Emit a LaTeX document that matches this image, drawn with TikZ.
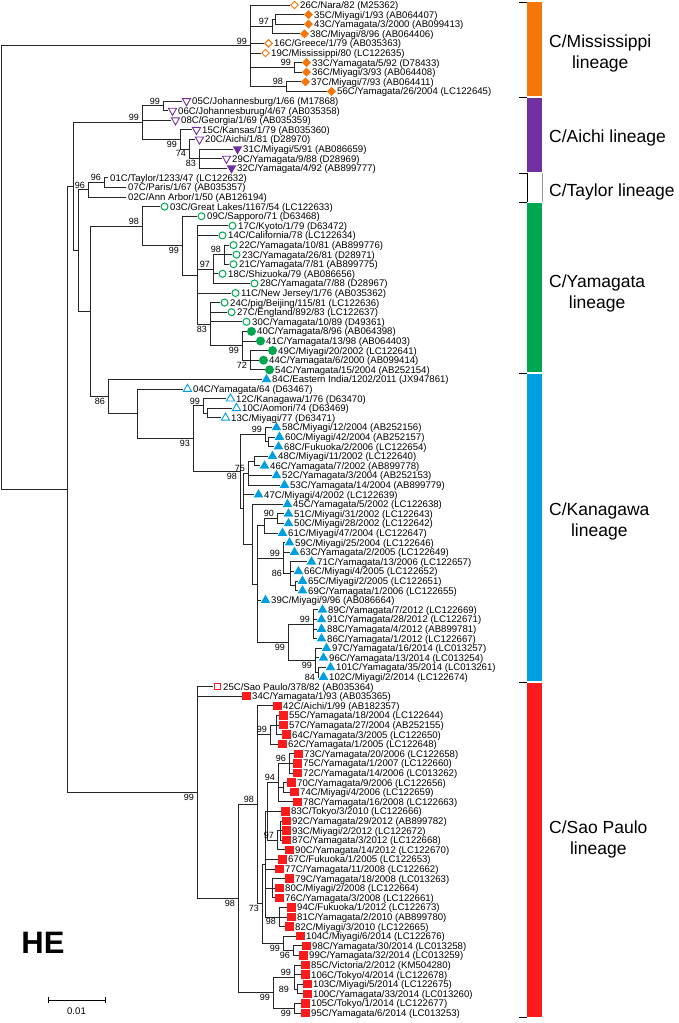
\documentclass[tikz,border=0pt]{standalone}
\usepackage{fontspec}
\setmainfont{Liberation Sans}
\usetikzlibrary{shapes.geometric,calc}

\definecolor{cmis}{RGB}{245,118,10}
\definecolor{caic}{RGB}{112,48,160}
\definecolor{cyam}{RGB}{0,166,80}
\definecolor{ckan}{RGB}{0,160,224}
\definecolor{csao}{RGB}{250,28,28}

% row -> pixel
\newcommand\rw[1]{{9.6*(#1)-4.6}}
\newcommand\clade[3]{\coordinate (#1) at (#2,\rw{#3});}
\newcommand\leaf[5]{%
  \coordinate (#1) at (#3,\rw{#2});
  \node[#4] at ([xshift=4.5pt]#1) {};
  \node[strain] at ([xshift=10pt]#1) {#5};}
\newcommand\bare[4]{%
  \coordinate (#1) at (#3,\rw{#2});
  \node[strain] at ([xshift=2pt]#1) {#4};}
\newcommand\kids[2]{\foreach \ch in {#2}{\draw[branch] (#1) |- (\ch);}}

\tikzset{
  branch/.style={line width=0.75pt, draw=black!85},
  strain/.style={anchor=base west, inner sep=0pt, yshift=-3.4pt, font=\fontsize{9.6}{10}\selectfont},
  bsa/.style={anchor=south east, inner sep=0pt, xshift=-3pt, yshift=1.5pt, font=\fontsize{9}{10}\selectfont},
  bsb/.style={anchor=north east, inner sep=0pt, xshift=-3pt, yshift=-1.5pt, font=\fontsize{9}{10}\selectfont},
  bse/.style={anchor=east, inner sep=0pt, xshift=-8pt, font=\fontsize{9}{10}\selectfont},
  mk/.style={inner sep=0pt, outer sep=0pt},
  msO/.style={mk, diamond, draw=cmis, line width=1pt, fill=white, minimum width=7.5pt, minimum height=7.5pt},
  msF/.style={mk, diamond, fill=cmis, minimum width=9pt, minimum height=9pt},
  aiO/.style={mk, regular polygon, regular polygon sides=3, shape border rotate=180, draw=caic, line width=0.9pt, minimum size=9.5pt},
  aiF/.style={mk, regular polygon, regular polygon sides=3, shape border rotate=180, fill=caic, minimum size=11pt},
  yaO/.style={mk, circle, draw=cyam, line width=1pt, minimum size=7pt},
  yaF/.style={mk, circle, fill=cyam, minimum size=9pt},
  kaO/.style={mk, regular polygon, regular polygon sides=3, draw=ckan, line width=0.9pt, minimum size=9.5pt},
  kaF/.style={mk, regular polygon, regular polygon sides=3, fill=ckan, minimum size=11pt},
  spO/.style={mk, rectangle, draw=csao, line width=1pt, minimum size=6.5pt},
  spF/.style={mk, rectangle, fill=csao, minimum size=8.5pt},
  lineage/.style={inner sep=0pt, align=center, font=\fontsize{17.5}{21}\selectfont}
}

\begin{document}
\begin{tikzpicture}[x=1pt,y=-1pt]
\useasboundingbox (0,0) rectangle (678,1023);

% internal nodes
\clade{root}{1}{28.37}
\clade{M}{250}{5.25}
\clade{m97}{272}{3.25}
\clade{m3543}{275}{2.5}
\clade{m99b}{294}{7.5}
\clade{m98}{286}{9.5}
\clade{A}{67}{51.49}
\clade{B}{73}{19.93}
\clade{AI}{142}{13.25}
\clade{ai99a}{163}{11.5}
\clade{ai99b}{180}{15}
\clade{ai74}{189}{16}
\clade{ai83}{199}{17}
\clade{C}{78}{26.58}
\clade{T2}{88}{20.25}
\clade{T1}{104}{19.5}
\clade{D}{90}{32.9}
\clade{Y}{142}{24.03}
\clade{Y2}{182}{26.06}
\clade{Y3}{197}{29.12}
\clade{y97}{213}{28.5}
\clade{y98}{224}{27}
\clade{y83}{210}{34.25}
\clade{y99}{242}{36.5}
\clade{y72}{250}{38}
\clade{K}{108}{41.8}
\clade{K2}{137}{43.59}
\clade{K3}{193}{46.18}
\clade{k99a}{203}{42.75}
\clade{k10}{207}{43.5}
\clade{K4}{240}{49.6}
\clade{k99b}{265}{45.75}
\clade{k60}{268}{46.5}
\clade{Kb}{243}{53.46}
\clade{k75}{248}{49.75}
\clade{k48}{254}{48.5}
\clade{Kc}{252}{57.16}
\clade{Kd}{257}{61.33}
\clade{k90}{264}{55.25}
\clade{k90a}{277}{54.5}
\clade{k99c}{283}{58.63}
\clade{k86}{290}{60.25}
\clade{k86a}{295}{61.5}
\clade{k99d}{288}{67.38}
\clade{k89}{313}{65.5}
\clade{k97}{315}{69.25}
\clade{k84}{318}{70.5}
\clade{S}{197}{83.05}
\clade{S2}{238}{94.09}
\clade{S3}{257}{84.3}
\clade{p99}{270}{77}
\clade{p99a}{276}{76}
\clade{S6}{262}{94.63}
\clade{Sb}{265}{90.5}
\clade{Sa}{267}{85}
\clade{p94}{278}{82}
\clade{p96}{289}{80}
\clade{p70}{283}{82.5}
\clade{p97}{277}{88}
\clade{p97a}{280}{87}
\clade{p79}{272}{93}
\clade{p98}{279}{96}
\clade{p104}{283}{98.75}
\clade{p96b}{293}{99.5}
\clade{S4}{273}{103.88}
\clade{p99e}{294}{102.25}
\clade{p89}{297}{103.5}
\clade{p99f}{294}{105.5}

% C/Mississippi
\leaf{s26}{1}{290}{msO}{26C/Nara/82 (M25362)}
\leaf{s35}{2}{304}{msF}{35C/Miyagi/1/93 (AB064407)}
\leaf{s43}{3}{304}{msF}{43C/Yamagata/3/2000 (AB099413)}
\leaf{s38}{4}{300}{msF}{38C/Miyagi/8/96 (AB064406)}
\leaf{s16}{5}{264}{msO}{16C/Greece/1/79 (AB035363)}
\leaf{s19}{6}{261}{msO}{19C/Mississippi/80 (LC122635)}
\leaf{s33}{7}{302}{msF}{33C/Yamagata/5/92 (D78433)}
\leaf{s36}{8}{302}{msF}{36C/Miyagi/3/93 (AB064408)}
\leaf{s37}{9}{301}{msF}{37C/Miyagi/7/93 (AB064411)}
\leaf{s56}{10}{327}{msF}{56C/Yamagata/26/2004 (LC122645)}
% C/Aichi
\leaf{s05}{11}{182}{aiO}{05C/Johannesburg/1/66 (M17868)}
\leaf{s06}{12}{168}{aiO}{06C/Johannesburug/4/67 (AB035358)}
\leaf{s08}{13}{171}{aiO}{08C/Georgia/1/69 (AB035359)}
\leaf{s15}{14}{192}{aiO}{15C/Kansas/1/79 (AB035360)}
\leaf{s20}{15}{195}{aiO}{20C/Aichi/1/81 (D28970)}
\leaf{s31}{16}{233}{aiF}{31C/Miyagi/5/91 (AB086659)}
\leaf{s29}{17}{222}{aiO}{29C/Yamagata/9/88 (D28969)}
\leaf{s32}{18}{227}{aiF}{32C/Yamagata/4/92 (AB899777)}
% C/Taylor
\bare{s01}{19}{108}{01C/Taylor/1233/47 (LC122632)}
\bare{s07}{20}{126}{07C/Paris/1/67 (AB035357)}
\bare{s02}{21}{126}{02C/Ann Arbor/1/50 (AB126194)}
% C/Yamagata
\leaf{s03}{22}{160}{yaO}{03C/Great Lakes/1167/54 (LC122633)}
\leaf{s09}{23}{197}{yaO}{09C/Sapporo/71 (D63468)}
\leaf{s17}{24}{228}{yaO}{17C/Kyoto/1/79 (D63472)}
\leaf{s14}{25}{218}{yaO}{14C/California/78 (LC122634)}
\leaf{s22}{26}{229}{yaO}{22C/Yamagata/10/81 (AB899776)}
\leaf{s23}{27}{232}{yaO}{23C/Yamagata/26/81 (D28971)}
\leaf{s21}{28}{229}{yaO}{21C/Yamagata/7/81 (AB899775)}
\leaf{s18}{29}{218}{yaO}{18C/Shizuoka/79 (AB086656)}
\leaf{s28}{30}{250}{yaO}{28C/Yamagata/7/88 (D28967)}
\leaf{s11}{31}{231}{yaO}{11C/New Jersey/1/76 (AB035362)}
\leaf{s24}{32}{220}{yaO}{24C/pig/Beijing/115/81 (LC122636)}
\leaf{s27}{33}{227}{yaO}{27C/England/892/83 (LC122637)}
\leaf{s30}{34}{242}{yaO}{30C/Yamagata/10/89 (D49361)}
\leaf{s40}{35}{247}{yaF}{40C/Yamagata/8/96 (AB064398)}
\leaf{s41}{36}{256}{yaF}{41C/Yamagata/13/98 (AB064403)}
\leaf{s49}{37}{268}{yaF}{49C/Miyagi/20/2002 (LC122641)}
\leaf{s44}{38}{259}{yaF}{44C/Yamagata/6/2000 (AB099414)}
\leaf{s54}{39}{265}{yaF}{54C/Yamagata/15/2004 (AB252154)}
% C/Kanagawa
\leaf{s84}{40}{262}{kaF}{84C/Eastern India/1202/2011 (JX947861)}
\leaf{s04}{41}{183}{kaO}{04C/Yamagata/64 (D63467)}
\leaf{s12}{42}{226}{kaO}{12C/Kanagawa/1/76 (D63470)}
\leaf{s10}{43}{232}{kaO}{10C/Aomori/74 (D63469)}
\leaf{s13}{44}{221}{kaO}{13C/Miyagi/77 (D63471)}
\leaf{s58}{45}{272}{kaF}{58C/Miyagi/12/2004 (AB252156)}
\leaf{s60}{46}{275}{kaF}{60C/Miyagi/42/2004 (AB252157)}
\leaf{s68}{47}{274}{kaF}{68C/Fukuoka/2/2006 (LC122654)}
\leaf{s48}{48}{268}{kaF}{48C/Miyagi/11/2002 (LC122640)}
\leaf{s46}{49}{260}{kaF}{46C/Yamagata/7/2002 (AB899778)}
\leaf{s52}{50}{272}{kaF}{52C/Yamagata/3/2004 (AB252153)}
\leaf{s53}{51}{280}{kaF}{53C/Yamagata/14/2004 (AB899779)}
\leaf{s47}{52}{254}{kaF}{47C/Miyagi/4/2002 (LC122639)}
\leaf{s45}{53}{283}{kaF}{45C/Yamagata/5/2002 (LC122638)}
\leaf{s51}{54}{284}{kaF}{51C/Miyagi/31/2002 (LC122643)}
\leaf{s50}{55}{284}{kaF}{50C/Miyagi/28/2002 (LC122642)}
\leaf{s61}{56}{278}{kaF}{61C/Miyagi/47/2004 (LC122647)}
\leaf{s59}{57}{285}{kaF}{59C/Miyagi/25/2004 (LC122646)}
\leaf{s63}{58}{290}{kaF}{63C/Yamagata/2/2005 (LC122649)}
\leaf{s71}{59}{307}{kaF}{71C/Yamagata/13/2006 (LC122657)}
\leaf{s66}{60}{294}{kaF}{66C/Miyagi/4/2005 (LC122652)}
\leaf{s65}{61}{298}{kaF}{65C/Miyagi/2/2005 (LC122651)}
\leaf{s69}{62}{298}{kaF}{69C/Yamagata/1/2006 (LC122655)}
\leaf{s39}{63}{261}{kaF}{39C/Miyagi/9/96 (AB086664)}
\leaf{s89}{64}{318}{kaF}{89C/Yamagata/7/2012 (LC122669)}
\leaf{s91}{65}{317}{kaF}{91C/Yamagata/28/2012 (LC122671)}
\leaf{s88}{66}{317}{kaF}{88C/Yamagata/4/2012 (AB899781)}
\leaf{s86}{67}{317}{kaF}{86C/Yamagata/1/2012 (LC122667)}
\leaf{s97}{68}{322}{kaF}{97C/Yamagata/16/2014 (LC013257)}
\leaf{s96}{69}{319}{kaF}{96C/Yamagata/13/2014 (LC013254)}
\leaf{s101}{70}{326}{kaF}{101C/Yamagata/35/2014 (LC013261)}
\leaf{s102}{71}{319}{kaF}{102C/Miyagi/2/2014 (LC122674)}
% C/Sao Paulo
\leaf{s25}{72}{213}{spO}{25C/Sao Paulo/378/82 (AB035364)}
\leaf{s34}{73}{242}{spF}{34C/Yamagata/1/93 (AB035365)}
\leaf{s42}{74}{273}{spF}{42C/Aichi/1/99 (AB182357)}
\leaf{s55}{75}{279}{spF}{55C/Yamagata/18/2004 (LC122644)}
\leaf{s57}{76}{279}{spF}{57C/Yamagata/27/2004 (AB252155)}
\leaf{s64}{77}{282}{spF}{64C/Yamagata/3/2005 (LC122650)}
\leaf{s62}{78}{278}{spF}{62C/Yamagata/1/2005 (LC122648)}
\leaf{s73}{79}{294}{spF}{73C/Yamagata/20/2006 (LC122658)}
\leaf{s75}{80}{293}{spF}{75C/Yamagata/1/2007 (LC122660)}
\leaf{s72}{81}{293}{spF}{72C/Yamagata/14/2006 (LC013262)}
\leaf{s70}{82}{287}{spF}{70C/Yamagata/9/2006 (LC122656)}
\leaf{s74}{83}{290}{spF}{74C/Miyagi/4/2006 (LC122659)}
\leaf{s78}{84}{293}{spF}{78C/Yamagata/16/2008 (LC122663)}
\leaf{s83}{85}{281}{spF}{83C/Tokyo/3/2010 (LC122666)}
\leaf{s92}{86}{282}{spF}{92C/Yamagata/29/2012 (AB899782)}
\leaf{s93}{87}{282}{spF}{93C/Miyagi/2/2012 (LC122672)}
\leaf{s87}{88}{282}{spF}{87C/Yamagata/3/2012 (LC122668)}
\leaf{s90}{89}{285}{spF}{90C/Yamagata/14/2012 (LC122670)}
\leaf{s67}{90}{278}{spF}{67C/Fukuoka/1/2005 (LC122653)}
\leaf{s77}{91}{275}{spF}{77C/Yamagata/11/2008 (LC122662)}
\leaf{s79}{92}{285}{spF}{79C/Yamagata/18/2008 (LC013263)}
\leaf{s80}{93}{275}{spF}{80C/Miyagi/2/2008 (LC122664)}
\leaf{s76}{94}{275}{spF}{76C/Yamagata/3/2008 (LC122661)}
\leaf{s94}{95}{287}{spF}{94C/Fukuoka/1/2012 (LC122673)}
\leaf{s81}{96}{287}{spF}{81C/Yamagata/2/2010 (AB899780)}
\leaf{s82}{97}{285}{spF}{82C/Miyagi/3/2010 (LC122665)}
\leaf{s104}{98}{296}{spF}{104C/Miyagi/6/2014 (LC122676)}
\leaf{s98}{99}{302}{spF}{98C/Yamagata/30/2014 (LC013258)}
\leaf{s99}{100}{299}{spF}{99C/Yamagata/32/2014 (LC013259)}
\leaf{s85}{101}{301}{spF}{85C/Victoria/2/2012 (KM504280)}
\leaf{s106}{102}{301}{spF}{106C/Tokyo/4/2014 (LC122678)}
\leaf{s103}{103}{303}{spF}{103C/Miyagi/5/2014 (LC122675)}
\leaf{s100}{104}{303}{spF}{100C/Yamagata/33/2014 (LC013260)}
\leaf{s105}{105}{301}{spF}{105C/Tokyo/1/2014 (LC122677)}
\leaf{s95}{106}{301}{spF}{95C/Yamagata/6/2014 (LC013253)}

% branches
\kids{root}{M,A}
\kids{M}{s26,m97,s16,s19,m99b,m98}
\kids{m97}{m3543,s38}
\kids{m3543}{s35,s43}
\kids{m99b}{s33,s36}
\kids{m98}{s37,s56}
\kids{A}{B,S}
\kids{B}{AI,C}
\kids{AI}{ai99a,s08,ai99b}
\kids{ai99a}{s05,s06}
\kids{ai99b}{s15,ai74}
\kids{ai74}{s20,ai83}
\kids{ai83}{s31,s29,s32}
\kids{C}{T2,D}
\kids{T2}{T1,s02}
\kids{T1}{s01,s07}
\kids{D}{Y,K}
\kids{Y}{s03,Y2}
\kids{Y2}{s09,Y3}
\kids{Y3}{s17,s14,y97,s11,y83}
\kids{y97}{y98,s18,s28}
\kids{y98}{s22,s23,s21}
\kids{y83}{s24,s27,s30,y99}
\kids{y99}{s40,s41,y72}
\kids{y72}{s49,s44,s54}
\kids{K}{s84,K2}
\kids{K2}{s04,K3}
\kids{K3}{k99a,K4}
\kids{k99a}{s12,k10}
\kids{k10}{s10,s13}
\kids{K4}{k99b,Kb}
\kids{k99b}{s58,k60}
\kids{k60}{s60,s68}
\kids{Kb}{k75,s47,Kc}
\kids{k75}{k48,s52,s53}
\kids{k48}{s48,s46}
\kids{Kc}{s45,Kd}
\kids{Kd}{k90,k99c,s39,k99d}
\kids{k90}{k90a,s61}
\kids{k90a}{s51,s50}
\kids{k99c}{s59,s63,k86}
\kids{k86}{s71,s66,k86a}
\kids{k86a}{s65,s69}
\kids{k99d}{k89,k97}
\kids{k89}{s89,s91,s88,s86}
\kids{k97}{s97,s96,k84}
\kids{k84}{s101,s102}
\kids{S}{s25,s34,S2}
\kids{S2}{S3,S4}
\kids{S3}{s42,p99,S6}
\kids{p99}{p99a,s62}
\kids{p99a}{s55,s57,s64}
\kids{S6}{Sb,p104}
\kids{Sb}{Sa,s67,s77,p79,p98}
\kids{Sa}{p94,s83,p97}
\kids{p94}{p96,p70,s78}
\kids{p96}{s73,s75,s72}
\kids{p70}{s70,s74}
\kids{p97}{p97a,s90}
\kids{p97a}{s92,s93,s87}
\kids{p79}{s79,s80,s76}
\kids{p98}{s94,s81,s82}
\kids{p104}{s104,p96b}
\kids{p96b}{s98,s99}
\kids{S4}{p99e,p99f}
\kids{p99e}{s85,s106,p89}
\kids{p89}{s103,s100}
\kids{p99f}{s105,s95}

% bootstrap values
\node[bsa] at (M) {99};
\node[bsa] at (m97) {97};
\node[bsa] at (m99b) {99};
\node[bsa] at (m98) {98};
\node[bsa] at (ai99a) {99};
\node[bsa] at (AI) {99};
\node[bsb] at (ai99b) {99};
\node[bsb] at (ai74) {74};
\node[bsb] at (ai83) {83};
\node[bsa] at (T1) {96};
\node[bsa] at (T2) {96};
\node[bsa] at (Y) {98};
\node[bsb] at (Y2) {99};
\node[bsa] at (y98) {98};
\node[bsa] at (y97) {97};
\node[bsb] at (y83) {83};
\node[bsb] at (y99) {99};
\node[bsb] at (y72) {72};
\node[bsb] at (K) {86};
\node[bsa] at (k99a) {99};
\node[bsb] at (K3) {93};
\node[bsb] at (K4) {98};
\node[bsa] at (k99b) {99};
\node[bsa] at (k75) {75};
\node[bsa] at (k90a) {90};
\node[bsa] at (k99c) {99};
\node[bse] at (k86) {86};
\node[bsb] at (k99d) {99};
\node[bsa] at (k89) {99};
\node[bsb] at (k97) {99};
\node[bsb] at (k84) {84};
\node[bsb] at (S) {99};
\node[bsb] at (S2) {98};
\node[bsa] at (S3) {98};
\node[bsa] at (p99) {99};
\node[bsa] at (p96) {96};
\node[bsa] at (p94) {94};
\node[bsa] at (p97) {97};
\node[bsb] at (p98) {98};
\node[bsb] at (S6) {73};
\node[bsb] at (p104) {99};
\node[bsb] at (p96b) {96};
\node[bsb] at (S4) {99};
\node[bsa] at (p99e) {99};
\node[bse] at (p89) {89};
\node[bsb] at (p99f) {99};

% lineage bars
\fill[cmis] (527,2) rectangle (542,96);
\fill[caic] (527,98) rectangle (542,172);
\fill[cyam] (527,203) rectangle (542,372);
\fill[ckan] (527,374) rectangle (542,681);
\fill[csao] (527,683) rectangle (542,1017);
\draw[line width=0.6pt] (527,173) -- (527,202);
\draw[line width=0.4pt, black!40] (542,173) -- (542,202);
\foreach \yy in {2,97,173,202,373,682,1017}
  \draw[line width=0.6pt] (519,\yy) -- (527,\yy);

\node[lineage, anchor=north west] at (549,35) {C/Mississippi\\lineage};
\node[lineage, anchor=base west] at (549,142) {C/Aichi lineage};
\node[lineage, anchor=base west] at (549,196) {C/Taylor lineage};
\node[lineage, anchor=north west] at (549,275) {C/Yamagata\\lineage};
\node[lineage, anchor=north west] at (549,503) {C/Kanagawa\\lineage};
\node[lineage, anchor=north west] at (549,821) {C/Sao Paulo\\lineage};

% HE and scale bar
\node[font=\fontsize{31}{31}\selectfont\bfseries] (he) at (43,943) {HE};
\coordinate (sbl) at (48,1000);
\coordinate (sbr) at (105,1000);
\draw[line width=0.75pt] (sbl) -- (sbr);
\draw[line width=0.75pt] ([yshift=3pt]sbl) -- ([yshift=-3pt]sbl);
\draw[line width=0.75pt] ([yshift=3pt]sbr) -- ([yshift=-3pt]sbr);
\node[font=\fontsize{9.6}{10}\selectfont, anchor=north] at ([yshift=-4pt]$(sbl)!0.5!(sbr)$) {0.01};
\end{tikzpicture}
\end{document}
